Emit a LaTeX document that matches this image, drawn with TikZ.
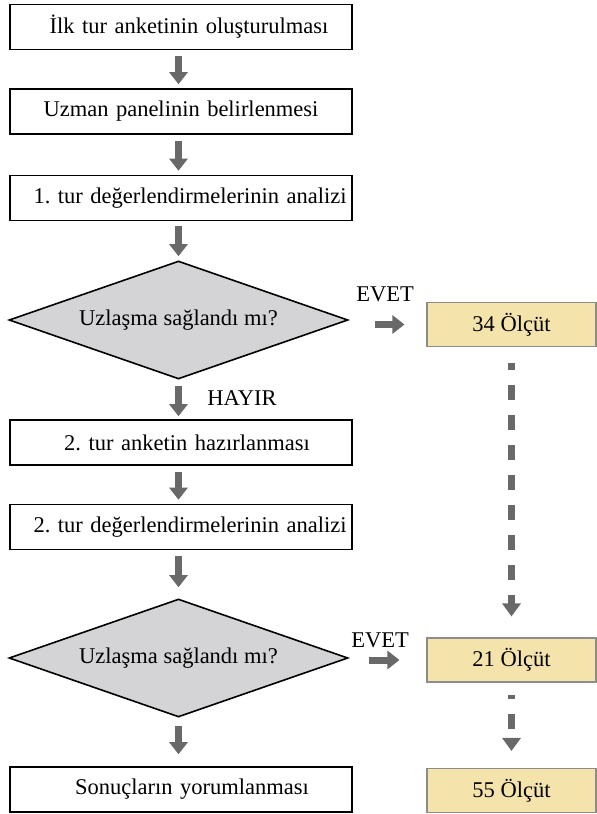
\documentclass[tikz,border=0pt]{standalone}
\usepackage{fontspec}
\setmainfont{Liberation Serif}
\usetikzlibrary{shapes.geometric,arrows.meta}
\frenchspacing

\definecolor{arrowgray}{RGB}{105,105,105}
\definecolor{decisionfill}{RGB}{212,212,214}
\definecolor{resultfill}{RGB}{245,227,172}
\definecolor{resultedge}{RGB}{140,140,140}

\begin{document}
\begin{tikzpicture}[x=1pt,y=-1pt,
  every node/.style={font=\fontsize{22.5}{27}\selectfont, inner sep=0pt},
  stepbox/.style={draw=black, line width=1.6pt, fill=white,
    minimum width=342pt, minimum height=45pt, text width=342pt, align=center},
  decision/.style={diamond, aspect=2.87, draw=black, line width=1.6pt, fill=decisionfill,
    minimum width=339pt, minimum height=118pt},
  resultbox/.style={draw=resultedge, line width=1.1pt, fill=resultfill,
    minimum width=169pt, minimum height=44pt},
  flow/.style={draw=arrowgray, line width=7pt,
    -{Triangle[length=12pt,width=18pt]}, shorten <=6pt, shorten >=4pt},
  dashflow/.style={draw=arrowgray, line width=7pt,
    dash pattern=on 15pt off 15pt, dash phase=8pt,
    -{Triangle[length=13pt,width=18pt]}},
  tag/.style={anchor=center}
]
\useasboundingbox (0,0) rectangle (597,814);

% main column
\node[stepbox] (s1) at (181,27)    {\hspace*{16pt}İlk tur anketinin oluşturulması};
\node[stepbox] (s2) at (181,111.5) {Uzman panelinin belirlenmesi};
\node[stepbox] (s3) at (181,198)   {\hspace*{18pt}1. tur değerlendirmelerinin analizi};
\node[decision] (d1) at (178.5,320) {Uzlaşma sağlandı mı?};
\node[stepbox] (s4) at (181,442.5) {\hspace*{12pt}2. tur anketin hazırlanması};
\node[stepbox] (s5) at (181,527)   {\hspace*{18pt}2. tur değerlendirmelerinin analizi};
\node[decision] (d2) at (178.5,658) {Uzlaşma sağlandı mı?};
\node[stepbox] (s6) at (181,789.5) {\hspace*{22pt}Sonuçların yorumlanması};

% result column
\node[resultbox] (r1) at (511.5,324.5) {34 Ölçüt};
\node[resultbox] (r2) at (511.5,660)   {21 Ölçüt};
\node[resultbox] (r3) at (511.5,790.5) {55 Ölçüt};

% branch labels
\node[tag] (yes1) at (385,294) {EVET};
\node[tag] (no1)  at (242,398) {HAYIR};
\node[tag] (yes2) at (380,640) {EVET};

% vertical flow, all along the axis of the decision nodes
\draw[flow] (d1.north |- s1.south) -- (d1.north |- s2.north);
\draw[flow] (d1.north |- s2.south) -- (d1.north |- s3.north);
\draw[flow, shorten <=5pt] (d1.north |- s3.south) -- (d1.north);
\draw[flow, shorten >=3pt] (d1.south) -- (d1.south |- s4.north);
\draw[flow] (d2.north |- s4.south) -- (d2.north |- s5.north);
\draw[flow, shorten >=11pt] (d2.north |- s5.south) -- (d2.north);
\draw[flow, shorten <=8pt, shorten >=12pt] (d2.south) -- (d2.south |- s6.north);

% yes branches
\draw[flow, shorten <=26pt, shorten >=22pt] (d1.east |- r1.west) -- (r1.west);
\draw[flow, shorten <=20pt, shorten >=27pt] (d2.east |- r2.west) -- (r2.west);

% carried-over criteria
\draw[dashflow, shorten <=16pt, shorten >=21pt] (r1.south) -- (r2.north);
\draw[dashflow, dash phase=11pt, shorten <=12pt, shorten >=17pt] (r2.south) -- (r3.north);
\end{tikzpicture}
\end{document}
